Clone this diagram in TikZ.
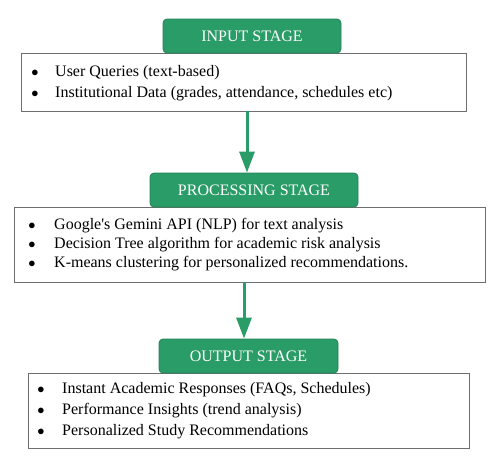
\documentclass[tikz,border=0pt]{standalone}
\usepackage{fontspec}
\setmainfont{Liberation Serif}
\newfontfamily\timesx{Liberation Serif}
\usetikzlibrary{arrows.meta}
\definecolor{stagegreen}{RGB}{42,156,103}
\definecolor{stageedge}{RGB}{36,130,86}
\definecolor{boxgray}{RGB}{110,110,110}
\tikzset{
  stagebox/.style={draw=stageedge, fill=stagegreen, rounded corners=4pt, line width=0.8pt,
    text=white, font=\timesx\fontsize{16}{18}\selectfont, inner sep=0pt},
  listbox/.style={draw=boxgray, line width=1pt, fill=white},
  item/.style={anchor=west, font=\timesx\fontsize{16}{18}\selectfont, inner sep=0pt},
  dot/.style={anchor=center, font=\timesx\fontsize{15}{18}\selectfont, inner sep=0pt},
  flow/.style={draw=stagegreen, line width=3pt, -{Triangle[length=21pt,width=15pt]}}
}
\begin{document}
\begin{tikzpicture}[x=1pt,y=-1pt]
\useasboundingbox (0,0) rectangle (496,464);
% input
\draw[listbox] (21,53) rectangle (466,111);
\node[stagebox, minimum width=178pt, minimum height=34pt] (in) at (252,36) {INPUT STAGE};
\coordinate (inb) at (247,111);
\node[dot] at (35,73) {$\bullet$};
\node[item] (i1) at (55,73) {User Queries (text-based)};
\node[dot] at (35,94) {$\bullet$};
\node[item] (i2) at (55,94) {Institutional Data (grades, attendance, schedules etc)};
% processing
\draw[listbox] (14,207) rectangle (485,282);
\node[stagebox, minimum width=208pt, minimum height=34pt] (pr) at (254,190) {PROCESSING STAGE};
\coordinate (prb) at (244,282);
\node[dot] at (32,226) {$\bullet$};
\node[item] (p1) at (54,226) {Google\textquotesingle s Gemini API (NLP) for text analysis};
\node[dot] at (32,245) {$\bullet$};
\node[item] (p2) at (54,245) {Decision Tree algorithm for academic risk analysis};
\node[dot] at (32,264) {$\bullet$};
\node[item] (p3) at (54,264) {K-means clustering for personalized recommendations.};
% output
\draw[listbox] (28,373) rectangle (469,448);
\node[stagebox, minimum width=179pt, minimum height=34pt] (out) at (248.5,356) {OUTPUT STAGE};
\node[dot] at (41,390) {$\bullet$};
\node[item] (o1) at (62,390) {Instant Academic Responses (FAQs, Schedules)};
\node[dot] at (41,411) {$\bullet$};
\node[item] (o2) at (62,411) {Performance Insights (trend analysis)};
\node[dot] at (41,432) {$\bullet$};
\node[item] (o3) at (62,432) {Personalized Study Recommendations};
% arrows
\draw[flow] (inb) -- (inb |- pr.north);
\draw[flow] (prb) -- (prb |- out.north);
\end{tikzpicture}
\end{document}
